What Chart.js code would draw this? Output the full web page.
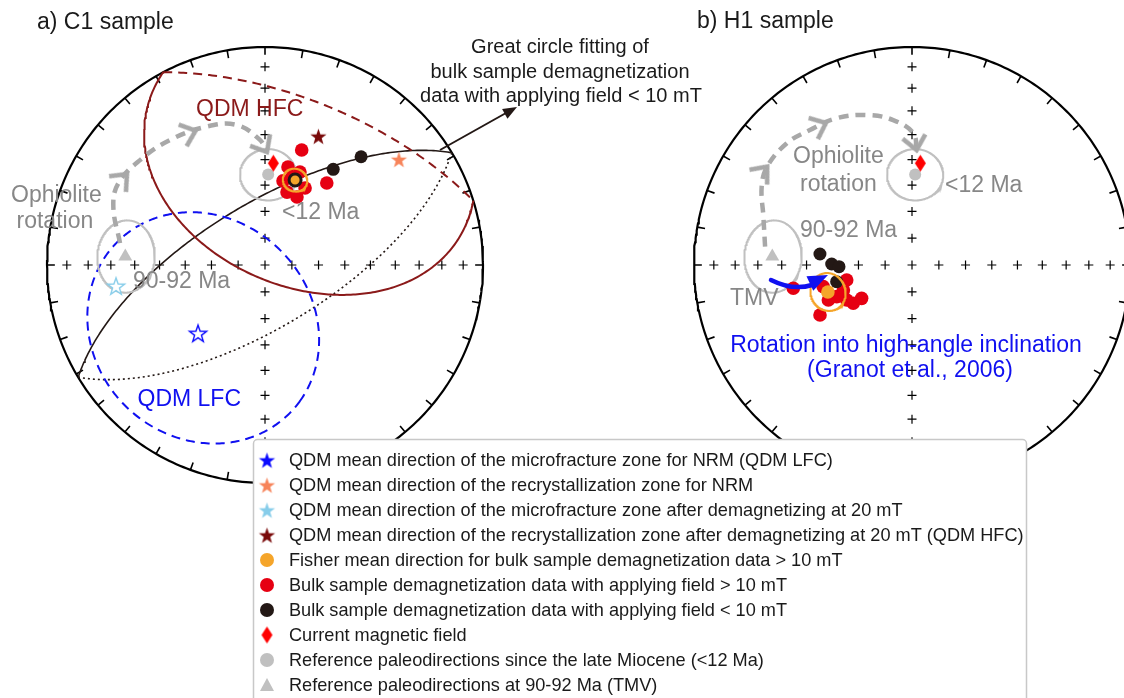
<!DOCTYPE html>
<html>
<head>
<meta charset="utf-8">
<script src="https://cdn.jsdelivr.net/npm/chart.js@4.4.1/dist/chart.umd.min.js"></script>
<style>
  html, body { margin: 0; padding: 0; background: #fff; }
  #wrap { position: relative; width: 1124px; height: 698px; overflow: hidden; }
</style>
</head>
<body>
<div id="wrap"><canvas id="plot" width="1124" height="698"></canvas></div>
<script>
// directions are declination / inclination in degrees (negative inc = upper hemisphere)
const refYoungDir = [2.0, 55.8];   // reference <12 Ma
const refYoungA95 = 10;
const refOldDir = [273.5, 36.0];   // reference 90-92 Ma (TMV)
const refOldA95 = 12;
const fieldDir = [4.7, 51.3];      // current field

// a) C1 sample
const c1HighDec = [17.7, 37.0, 13.2, 12.1, 16.8, 25.2, 27.5, 20.6, 17.1];
const c1HighInc = [43.9, 51.1, 51.9, 57.6, 61.4, 61.8, 57.3, 52.4, 55.3];
const c1LowDec = [19.5, 35.5, 41.6];
const c1LowInc = [56.0, 45.2, 34.0];
const c1Fisher = [19.5, 56.0, 4.4];          // dec, inc, a95
const c1StarDec = [224.5, 51.7, 262.0, 22.5]; // LFC NRM, recryst NRM, microfr 20mT, HFC 20mT
const c1StarInc = [-53.9, 22.8, -31.6, 36.2];
const c1LfcCone = 44;
const c1HfcCone = 59;
const c1GreatCircle = [329, 66.8];           // dip direction, dip
const c1RotDec = [278.6, 291.0, 299.1, 310.0, 322.8, 337.1, 348.6, 357.7, 1.0];
const c1RotInc = [33.2, 26.4, 24.0, 26.1, 28.8, 31.7, 34.8, 42.1, 47.0];
const c1RotArrows = [2.4, 4.7, 8];

// b) H1 sample
const h1HighDec = [258.9, 241.5, 236.5, 236.9, 257.1, 250.0, 247.2, 247.3, 241.8, 256.3];
const h1HighInc = [43.8, 50.3, 67.4, 63.7, 64.9, 62.6, 59.3, 55.8, 62.2, 55.5];
const h1LowDec = [276.8, 270.7, 268.7, 257.5];
const h1LowInc = [55.0, 59.8, 62.6, 61.0];
const h1Fisher = [252.2, 56.7, 6.8];
const h1RotDec = [277.1, 288.0, 297.5, 304.2, 314.2, 322.9, 332.8, 343.2, 352.6, 0.6, 2.3];
const h1RotInc = [32.6, 29.1, 23.3, 20.8, 21.0, 23.4, 25.3, 28.9, 33.4, 39.4, 46.2];
const h1RotArrows = [3.0, 5.6, 10];

const legendLabels = [
  "QDM mean direction of the microfracture zone for NRM (QDM LFC)",
  "QDM mean direction of the recrystallization zone for NRM",
  "QDM mean direction of the microfracture zone after demagnetizing at 20 mT",
  "QDM mean direction of the recrystallization zone after demagnetizing at 20 mT (QDM HFC)",
  "Fisher mean direction for bulk sample demagnetization data > 10 mT",
  "Bulk sample demagnetization data with applying field > 10 mT",
  "Bulk sample demagnetization data with applying field < 10 mT",
  "Current magnetic field",
  "Reference paleodirections since the late Miocene (<12 Ma)",
  "Reference paleodirections at 90-92 Ma (TMV)"
];

const W = 1124, H = 698, RAD = 218;
const centers = { L: [265, 265], R: [912, 265] };
const FONT = '"Liberation Sans", Arial, Helvetica, sans-serif';
const RED = '#e60012', BLACK = '#231815', ORANGE = '#f5a52a', GRAYPT = '#c0c0c0';
const DARKRED = '#8b1a1a', BLUE = '#1010f0', GRAYTXT = '#878787';
const STAR_COLORS = ['#0a0aff', '#f7845a', '#87cdea', '#7a0a0a'];

// ---- equal-area (lower hemisphere) projection helpers ----
const D2R = Math.PI / 180;
const GAP = { x: NaN, y: NaN };
function vec(dec, inc) {
  const ci = Math.cos(inc * D2R);
  return [ci * Math.cos(dec * D2R), ci * Math.sin(dec * D2R), Math.sin(inc * D2R)];
}
function cross(a, b) {
  return [a[1] * b[2] - a[2] * b[1], a[2] * b[0] - a[0] * b[2], a[0] * b[1] - a[1] * b[0]];
}
function unit(a) {
  const n = Math.hypot(a[0], a[1], a[2]);
  return [a[0] / n, a[1] / n, a[2] / n];
}
function proj(v) {
  v = unit(v);
  const h = Math.hypot(v[0], v[1]);
  if (h < 1e-9) return { x: 0, y: 0 };
  const r = Math.sqrt(Math.max(0, 1 - Math.abs(v[2])));
  return { x: r * v[1] / h, y: r * v[0] / h };
}
function projDir(dec, inc) { return proj(vec(dec, inc)); }
function dirPoints(decs, incs) { return decs.map((d, i) => projDir(d, incs[i])); }

function smallCircle(dec, inc, a, n = 360) {
  const c = vec(dec, inc);
  let e1 = cross(c, [0, 0, 1]);
  if (Math.hypot(e1[0], e1[1], e1[2]) < 1e-6) e1 = [0, 1, 0];
  e1 = unit(e1);
  const e2 = cross(c, e1);
  const ca = Math.cos(a * D2R), sa = Math.sin(a * D2R);
  const out = [];
  for (let i = 0; i <= n; i++) {
    const t = 2 * Math.PI * i / n;
    out.push([0, 1, 2].map(k => c[k] * ca + sa * (e1[k] * Math.cos(t) + e2[k] * Math.sin(t))));
  }
  return out;
}
function greatCircle(dipDir, dip, n = 360) {
  const A = vec(dipDir - 90, 0), B = vec(dipDir, dip);
  const out = [];
  for (let i = 0; i <= n; i++) {
    const t = 2 * Math.PI * i / n;
    out.push([0, 1, 2].map(k => A[k] * Math.cos(t) + B[k] * Math.sin(t)));
  }
  return out;
}
// split a path of vectors into lower (solid) and upper (dashed) hemisphere runs
function splitHemi(vecs) {
  const lower = [], upper = [];
  for (let i = 0; i < vecs.length; i++) {
    const v = vecs[i];
    const down = v[2] >= 0;
    if (i > 0) {
      const p = vecs[i - 1];
      if ((p[2] >= 0) !== down) {
        const f = p[2] / (p[2] - v[2]);
        const m = proj([p[0] + f * (v[0] - p[0]), p[1] + f * (v[1] - p[1]), 0]);
        const from = down ? upper : lower, to = down ? lower : upper;
        from.push(m, GAP);
        to.push(GAP, m);
      }
    }
    (down ? lower : upper).push(proj(v));
  }
  return { lower, upper };
}

// ---- marker images ----
function starImg(color, size, hollow) {
  const c = document.createElement('canvas');
  const s = Math.ceil(size * 2 + 4);
  c.width = c.height = s;
  const g = c.getContext('2d');
  g.beginPath();
  for (let i = 0; i < 10; i++) {
    const r = i % 2 ? size * 0.4 : size;
    const a = -Math.PI / 2 + i * Math.PI / 5;
    g.lineTo(s / 2 + r * Math.cos(a), s / 2 + 1 + r * Math.sin(a));
  }
  g.closePath();
  if (hollow) {
    g.fillStyle = '#fff'; g.fill();
    g.strokeStyle = color; g.lineWidth = 1.4; g.stroke();
  } else {
    g.fillStyle = color; g.fill();
  }
  return c;
}
function diamondImg(color, w, h) {
  const c = document.createElement('canvas');
  c.width = w + 2; c.height = h + 2;
  const g = c.getContext('2d');
  g.beginPath();
  g.moveTo(c.width / 2, 1); g.lineTo(w + 1, c.height / 2);
  g.lineTo(c.width / 2, h + 1); g.lineTo(1, c.height / 2);
  g.closePath();
  g.fillStyle = color; g.fill();
  return c;
}
const chevron = (() => {
  const c = document.createElement('canvas');
  c.width = c.height = 52;
  const g = c.getContext('2d');
  const L = 18, a = 40 * D2R;
  g.strokeStyle = '#a8a8a8'; g.lineWidth = 4.5;
  g.beginPath();
  g.moveTo(26 - L * Math.cos(a), 26 - L * Math.sin(a));
  g.lineTo(26, 26);
  g.lineTo(26 - L * Math.cos(a), 26 + L * Math.sin(a));
  g.stroke();
  return c;
})();
const diamond = diamondImg('#ff0000', 11, 17);

// ---- datasets, pushed bottom to top ----
const layers = [];
function line(side, pts, color, width, dash, tension) {
  layers.push({
    showLine: true, data: pts, xAxisID: 'x' + side, yAxisID: 'y' + side,
    borderColor: color, borderWidth: width, borderDash: dash || [],
    pointRadius: 0, pointHitRadius: 0, tension: tension || 0, spanGaps: false, fill: false
  });
}
function dots(side, pts, opts) {
  layers.push(Object.assign({
    showLine: false, data: pts, xAxisID: 'x' + side, yAxisID: 'y' + side, pointHitRadius: 0
  }, opts));
}
function cone(side, vecs, color, width, lowerDash, upperDash) {
  const h = splitHemi(vecs);
  line(side, h.lower, color, width, lowerDash);
  line(side, h.upper, color, width, upperDash);
}
function frame(side) {
  const prim = [];
  for (let d = 0; d <= 360; d += 1) prim.push(projDir(d, 0));
  line(side, prim, '#000', 2.2);
  const ticks = [];
  for (let d = 0; d < 360; d += 10) {
    const p = projDir(d, 0);
    ticks.push(p, { x: p.x * 0.964, y: p.y * 0.964 }, GAP);
  }
  line(side, ticks, '#000', 1.6);
  const grid = [projDir(0, 90)];
  for (let inc = 10; inc < 90; inc += 10) {
    for (const d of [0, 90, 180, 270]) grid.push(projDir(d, inc));
  }
  dots(side, grid, { pointStyle: 'cross', pointRadius: 4.5, pointBorderWidth: 1.2,
    pointBorderColor: '#000', pointBackgroundColor: '#000' });
}
function rotationPath(side, decs, incs, arrowAt) {
  const pts = dirPoints(decs, incs);
  line(side, pts, '#a8a8a8', 4.5, [10, 7], 0.4);
  const pos = [], rot = [];
  for (const f of arrowAt) {
    const i = Math.min(Math.floor(f), pts.length - 2);
    const t = f - i;
    const a = pts[i], b = pts[i + 1];
    pos.push({ x: a.x + (b.x - a.x) * t, y: a.y + (b.y - a.y) * t });
    rot.push(Math.atan2(-(b.y - a.y), b.x - a.x) / D2R);
  }
  dots(side, pos, { pointStyle: chevron, pointRadius: 10, pointRotation: rot });
}
function references(side) {
  cone(side, smallCircle(refYoungDir[0], refYoungDir[1], refYoungA95), GRAYPT, 2, [], []);
  cone(side, smallCircle(refOldDir[0], refOldDir[1], refOldA95), GRAYPT, 2, [], []);
}
function referencePoints(side) {
  dots(side, [projDir(refOldDir[0], refOldDir[1])], { pointStyle: 'triangle', pointRadius: 8,
    pointBackgroundColor: GRAYPT, pointBorderColor: GRAYPT, pointBorderWidth: 0 });
  dots(side, [projDir(refYoungDir[0], refYoungDir[1])], { pointStyle: 'circle', pointRadius: 6,
    pointBackgroundColor: GRAYPT, pointBorderColor: GRAYPT, pointBorderWidth: 0 });
  dots(side, [projDir(fieldDir[0], fieldDir[1])], { pointStyle: diamond, pointRadius: 8 });
}

// a) C1
frame('L');
cone('L', greatCircle(c1GreatCircle[0], c1GreatCircle[1]), BLACK, 1.6, [], [2, 3]);
cone('L', smallCircle(c1StarDec[3], c1StarInc[3], c1HfcCone), DARKRED, 2, [], [9, 6]);
cone('L', smallCircle(c1StarDec[0], c1StarInc[0], c1LfcCone), BLUE, 2, [], [9, 6]);
references('L');
rotationPath('L', c1RotDec, c1RotInc, c1RotArrows);
referencePoints('L');
c1StarDec.forEach((d, i) => {
  const hollow = c1StarInc[i] < 0;
  dots('L', [projDir(d, c1StarInc[i])], { pointStyle: starImg(STAR_COLORS[i], hollow ? 9 : 8.5, hollow), pointRadius: 8 });
});
dots('L', dirPoints(c1HighDec, c1HighInc), { pointStyle: 'circle', pointRadius: 6.8,
  pointBackgroundColor: RED, pointBorderWidth: 0 });
dots('L', dirPoints(c1LowDec, c1LowInc), { pointStyle: 'circle', pointRadius: 6.5,
  pointBackgroundColor: BLACK, pointBorderWidth: 0 });
cone('L', smallCircle(c1Fisher[0], c1Fisher[1], c1Fisher[2]), ORANGE, 2, [], []);
dots('L', [projDir(c1Fisher[0], c1Fisher[1])], { pointStyle: 'circle', pointRadius: 6,
  pointBackgroundColor: ORANGE, pointBorderColor: BLACK, pointBorderWidth: 3 });

// b) H1
frame('R');
references('R');
rotationPath('R', h1RotDec, h1RotInc, h1RotArrows);
referencePoints('R');
dots('R', dirPoints(h1HighDec, h1HighInc), { pointStyle: 'circle', pointRadius: 6.8,
  pointBackgroundColor: RED, pointBorderWidth: 0 });
dots('R', dirPoints(h1LowDec, h1LowInc), { pointStyle: 'circle', pointRadius: 6.5,
  pointBackgroundColor: BLACK, pointBorderWidth: 0 });
cone('R', smallCircle(h1Fisher[0], h1Fisher[1], h1Fisher[2]), ORANGE, 2, [], []);
dots('R', [projDir(h1Fisher[0], h1Fisher[1])], { pointStyle: 'circle', pointRadius: 6.8,
  pointBackgroundColor: ORANGE, pointBorderWidth: 0 });

layers.forEach((ds, i) => { ds.order = layers.length - i; });

// ---- text, arrows and legend ----
const labels = [
  ['a) C1 sample', 37, 28.5, '#1a1a1a', 23, 'left'],
  ['b) H1 sample', 697, 28, '#1a1a1a', 23, 'left'],
  ['QDM HFC', 196, 116, DARKRED, 23, 'left'],
  ['Ophiolite', 11, 201.5, GRAYTXT, 23, 'left'],
  ['rotation', 16.5, 228, GRAYTXT, 23, 'left'],
  ['<12 Ma', 282, 218.5, GRAYTXT, 23, 'left'],
  ['90-92 Ma', 133, 288, GRAYTXT, 23, 'left'],
  ['QDM LFC', 137.5, 406, BLUE, 23, 'left'],
  ['Great circle fitting of', 560, 53, '#1a1a1a', 20, 'center'],
  ['bulk sample demagnetization', 560, 78, '#1a1a1a', 20, 'center'],
  ['data with applying field < 10 mT', 561, 102, '#1a1a1a', 20, 'center'],
  ['Ophiolite', 793, 163, GRAYTXT, 23, 'left'],
  ['rotation', 800, 190.5, GRAYTXT, 23, 'left'],
  ['<12 Ma', 945, 191.5, GRAYTXT, 23, 'left'],
  ['90-92 Ma', 800, 236.5, GRAYTXT, 23, 'left'],
  ['TMV', 730, 305, GRAYTXT, 23, 'left'],
  ['Rotation into high-angle inclination', 906, 351.5, BLUE, 23, 'center'],
  ['(Granot et al., 2006)', 910, 377, BLUE, 23, 'center']
];

function arrowHead(g, x0, y0, x1, y1, len, wid, color) {
  const a = Math.atan2(y1 - y0, x1 - x0);
  g.fillStyle = color;
  g.beginPath();
  g.moveTo(x1, y1);
  g.lineTo(x1 - len * Math.cos(a) + wid / 2 * Math.sin(a), y1 - len * Math.sin(a) - wid / 2 * Math.cos(a));
  g.lineTo(x1 - len * Math.cos(a) - wid / 2 * Math.sin(a), y1 - len * Math.sin(a) + wid / 2 * Math.cos(a));
  g.closePath();
  g.fill();
}

function legendIcon(g, i, x, y) {
  if (i < 4) {
    const img = starImg(STAR_COLORS[i], 8.5, false);
    g.drawImage(img, x - img.width / 2, y - img.height / 2);
  } else if (i < 7 || i === 8) {
    g.fillStyle = [ORANGE, RED, BLACK, null, GRAYPT][i - 4];
    g.beginPath(); g.arc(x, y, 7, 0, 2 * Math.PI); g.fill();
  } else if (i === 7) {
    g.drawImage(diamond, x - diamond.width / 2, y - diamond.height / 2);
  } else {
    g.fillStyle = GRAYPT;
    g.beginPath(); g.moveTo(x, y - 7); g.lineTo(x + 7, y + 6); g.lineTo(x - 7, y + 6); g.closePath(); g.fill();
  }
}

const annotate = {
  id: 'annotate',
  afterDatasetsDraw(chart) {
    const g = chart.ctx;
    g.save();
    g.textBaseline = 'alphabetic';
    for (const [t, x, y, color, size, align] of labels) {
      g.font = size + 'px ' + FONT;
      g.fillStyle = color;
      g.textAlign = align;
      g.fillText(t, x, y);
    }
    // arrow pointing to the great circle label
    g.strokeStyle = BLACK; g.lineWidth = 2;
    g.beginPath(); g.moveTo(440, 150); g.lineTo(506, 113); g.stroke();
    arrowHead(g, 440, 150, 517, 107, 14, 11, BLACK);
    // blue rotation arrow
    g.strokeStyle = BLUE; g.lineWidth = 4.5; g.lineCap = 'round';
    g.beginPath(); g.moveTo(771, 280); g.quadraticCurveTo(793, 291, 812, 285); g.stroke();
    arrowHead(g, 800, 288, 828, 275, 20, 16, BLUE);

    // legend box
    const bx = 253.5, by = 439.5, bw = 773, bh = 280;
    g.fillStyle = '#fff'; g.strokeStyle = '#c8c8c8'; g.lineWidth = 1.5;
    g.beginPath();
    g.roundRect(bx, by, bw, bh, 4);
    g.fill(); g.stroke();
    g.font = '17px ' + FONT;
    const fs = 17 * 544 / g.measureText(legendLabels[0]).width;
    g.font = fs.toFixed(2) + 'px ' + FONT;
    g.textAlign = 'left';
    legendLabels.forEach((t, i) => {
      const y = 460 + i * 25;
      legendIcon(g, i, 267, y);
      g.fillStyle = '#1a1a1a';
      g.fillText(t, 289, y + 6);
    });
    g.restore();
  }
};

const scales = {};
for (const s of ['L', 'R']) {
  const [cx, cy] = centers[s];
  scales['x' + s] = { type: 'linear', axis: 'x', display: false, min: -cx / RAD, max: (W - cx) / RAD };
  scales['y' + s] = { type: 'linear', axis: 'y', display: false, min: -(H - cy) / RAD, max: cy / RAD };
}

new Chart(document.getElementById('plot'), {
  type: 'scatter',
  data: { datasets: layers },
  options: {
    responsive: false,
    animation: false,
    events: [],
    layout: { padding: 0, autoPadding: false },
    plugins: { legend: { display: false }, tooltip: { enabled: false } },
    scales: scales
  },
  plugins: [annotate]
});
</script>
</body>
</html>
